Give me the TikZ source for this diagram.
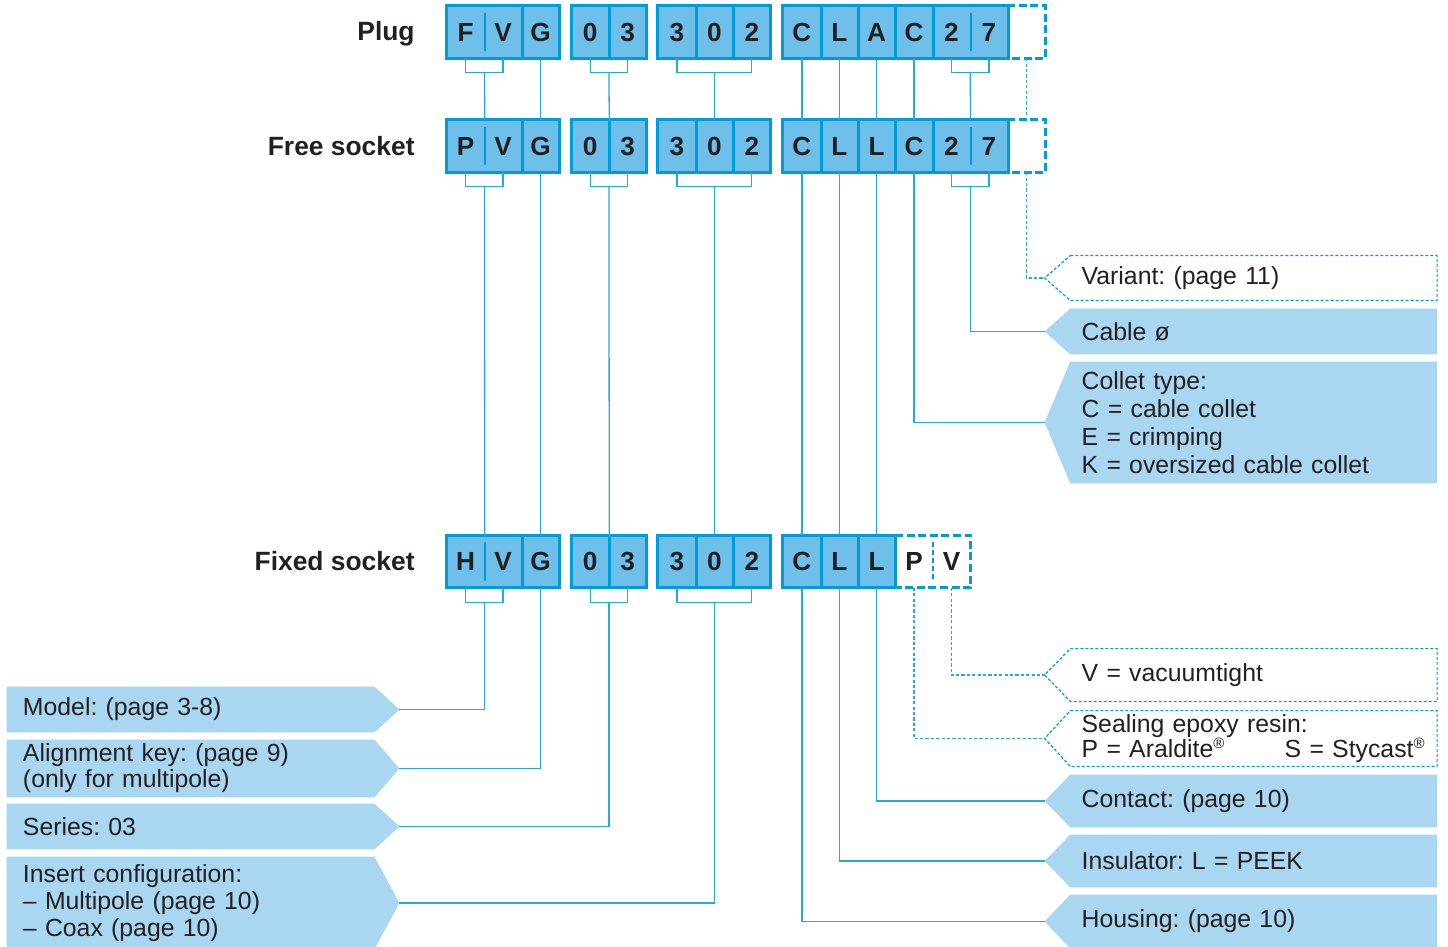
\documentclass[tikz,border=0pt]{standalone}
\usepackage{fontspec}
\setmainfont{Liberation Sans}
\usetikzlibrary{calc}
\definecolor{cellfill}{RGB}{110,192,234}
\definecolor{cellline}{RGB}{0,156,217}
\definecolor{labfill}{RGB}{169,214,240}
\definecolor{connline}{RGB}{40,168,224}
\definecolor{textcol}{RGB}{35,31,32}
\pgfdeclarelayer{bg}
\pgfsetlayers{bg,main}
\frenchspacing
\newcommand\myreg{\raisebox{4.6pt}{\fontsize{7.5pt}{7.5pt}\selectfont ®}}
\newcommand\mybrk[3]{\draw[conn] (#1.south) -- ++(0,14.5) -| (#2.south);
  \coordinate (#3) at ($(#1.south)!.5!(#2.south)+(0,14.5)$);}
\begin{document}
\begin{tikzpicture}[x=0.5pt,y=-0.5pt,
  every node/.append style={text=textcol},
  cell/.style={inner sep=0pt, minimum width=18.7pt, minimum height=25.85pt,
    text height=9.4pt, text depth=0pt, font=\fontsize{13.1}{14}\selectfont\bfseries},
  grp/.style={fill=cellfill, draw=cellline, line width=1.5pt},
  div/.style={draw=cellline, line width=1.5pt},
  sdiv/.style={draw=cellline, line width=1.1pt},
  dashcell/.style={draw=cellline, line width=1.5pt, dash pattern=on 4pt off 1.8pt},
  dsdiv/.style={draw=cellline, line width=1.1pt, dash pattern=on 2.5pt off 1.5pt},
  conn/.style={draw=connline, line width=0.65pt},
  dconn/.style={conn, dash pattern=on 1.6pt off 1.1pt},
  rowlab/.style={anchor=base east, inner sep=0pt, font=\fontsize{13.2}{14}\selectfont\bfseries},
  lab/.style={inner ysep=0pt, align=left, font=\fontsize{12.4}{13.5}\selectfont},
  rlab/.style={lab, text width=172pt, inner xsep=5.5pt},
  llab/.style={lab, text width=167.5pt, inner xsep=8pt},
  lfill/.style={fill=labfill},
  dlab/.style={fill=white, draw=cellline, line width=0.6pt, dash pattern=on 1.5pt off 1pt}
]
\useasboundingbox (0,0) rectangle (1448,947);
\begin{pgfonlayer}{bg}
  \fill[white] (0,0) rectangle (1448,947);
\end{pgfonlayer}

% row labels
\node[rowlab] (lplug) at (415,41) {Plug};
\node[rowlab] (lfree) at (415,155.5) {Free socket};
\node[rowlab] (lfix) at (415,570.5) {Fixed socket};

% cells
\foreach \i/\x/\t in {1/465.7/F,2/503.1/V,3/540.5/G,4/590.2/0,5/627.6/3,6/677.0/3,7/714.4/0,8/751.8/2,9/801.9/C,10/839.3/L,11/876.7/A,12/914.1/C,13/951.5/2,14/988.9/7,15/1026.3/{}}
  \node[cell] (pl\i) at (\x,31.9) {\t};
\foreach \i/\x/\t in {1/465.7/P,2/503.1/V,3/540.5/G,4/590.2/0,5/627.6/3,6/677.0/3,7/714.4/0,8/751.8/2,9/801.9/C,10/839.3/L,11/876.7/L,12/914.1/C,13/951.5/2,14/988.9/7,15/1026.3/{}}
  \node[cell] (fr\i) at (\x,146) {\t};
\foreach \i/\x/\t in {1/465.7/H,2/503.1/V,3/540.5/G,4/590.2/0,5/627.6/3,6/677.0/3,7/714.4/0,8/751.8/2,9/801.9/C,10/839.3/L,11/876.7/L,12/914.1/P,13/951.5/V}
  \node[cell] (fx\i) at (\x,561.5) {\t};

% group boxes
\begin{pgfonlayer}{bg}
\foreach \r in {pl,fr,fx}{
  \filldraw[grp] (\r1.north west) rectangle (\r3.south east);
  \filldraw[grp] (\r4.north west) rectangle (\r5.south east);
  \filldraw[grp] (\r6.north west) rectangle (\r8.south east);
}
\filldraw[grp] (pl9.north west) rectangle (pl14.south east);
\filldraw[grp] (fr9.north west) rectangle (fr14.south east);
\filldraw[grp] (fx9.north west) rectangle (fx11.south east);
\end{pgfonlayer}

% dividers
\foreach \r in {pl,fr}{
  \foreach \c in {2,4,6,7,9,10,11,12}
    \draw[div] (\r\c.north east) -- (\r\c.south east);
  \foreach \c in {1,13}
    \draw[sdiv] ([yshift=-3.5pt]\r\c.north east) -- ([yshift=3.5pt]\r\c.south east);
  \draw[dashcell] (\r15.north west) -- (\r15.north east) -- (\r15.south east) -- (\r15.south west);
}
\foreach \c in {2,4,6,7,9,10}
  \draw[div] (fx\c.north east) -- (fx\c.south east);
\draw[sdiv] ([yshift=-3.5pt]fx1.north east) -- ([yshift=3.5pt]fx1.south east);
\draw[dashcell] (fx12.north west) -- (fx13.north east) -- (fx13.south east) -- (fx12.south west);
\draw[dsdiv] ([yshift=-3.5pt]fx12.north east) -- ([yshift=3.5pt]fx12.south east);

% right labels
\node[rlab, minimum height=22pt] (var) at (1253.7,278) {Variant: (page 11)};
\node[rlab, minimum height=22.5pt] (cab) at (1253.7,331.5) {Cable ø};
\node[rlab, minimum height=60.5pt, font=\fontsize{12.4}{14}\selectfont] (col) at (1253.7,422.5) {Collet type:\\C = cable collet\\E = crimping\\K = oversized cable collet};
\node[rlab, minimum height=26pt] (vac) at (1253.7,675) {V = vacuumtight};
\node[rlab, minimum height=27.5pt, font=\fontsize{12.4}{12.5}\selectfont] (sea) at (1253.7,738.5) {Sealing epoxy resin:\\\makebox[101.5pt][l]{P = Araldite\myreg}S = Stycast\myreg};
\node[rlab, minimum height=26pt] (con) at (1253.7,801) {Contact: (page 10)};
\node[rlab, minimum height=26pt] (insu) at (1253.7,861) {Insulator: L = PEEK};
\node[rlab, minimum height=26.5pt] (hou) at (1253.7,921.5) {Housing: (page 10)};
\foreach \n in {var,cab,col,vac,sea,con,insu,hou}
  \coordinate (\n-t) at ([xshift=-12.85pt]\n.west);

% left labels
\node[llab, minimum height=22.5pt] (mod) at (190.5,709.5) {Model: (page 3-8)};
\node[llab, minimum height=28.5pt, font=\fontsize{12.4}{13}\selectfont] (ali) at (190.5,768.5) {Alignment key: (page 9)\\(only for multipole)};
\node[llab, minimum height=22.5pt] (ser) at (190.5,826.5) {Series: 03};
\node[llab, minimum height=46pt] (ins) at (190.5,903) {Insert configuration:\\– Multipole (page 10)\\– Coax (page 10)};
\foreach \n in {mod,ali,ser,ins}
  \coordinate (\n-t) at ([xshift=12.5pt]\n.east);

\begin{pgfonlayer}{bg}
\foreach \n in {cab,col,con,insu,hou}
  \fill[lfill] (\n.north west) -- (\n.north east) -- (\n.south east) -- (\n.south west) -- (\n-t) -- cycle;
\foreach \n in {var,vac,sea}
  \filldraw[dlab] (\n.north west) -- (\n.north east) -- (\n.south east) -- (\n.south west) -- (\n-t) -- cycle;
\foreach \n in {mod,ali,ser,ins}
  \fill[lfill] (\n.north west) -- (\n.north east) -- (\n-t) -- (\n.south east) -- (\n.south west) -- cycle;
\end{pgfonlayer}

% brackets
\mybrk{pl1}{pl2}{plB1} \mybrk{pl4}{pl5}{plB2} \mybrk{pl6}{pl8}{plB3} \mybrk{pl13}{pl14}{plB4}
\mybrk{fr1}{fr2}{frB1} \mybrk{fr4}{fr5}{frB2} \mybrk{fr6}{fr8}{frB3} \mybrk{fr13}{fr14}{frB4}
\mybrk{fx1}{fx2}{fxB1} \mybrk{fx4}{fx5}{fxB2} \mybrk{fx6}{fx8}{fxB3}

% plug -> free
\draw[conn] (plB1) -- (fr1.north east);
\draw[conn] (pl3.south) -- (fr3.north);
\draw[conn] (plB2) -- (fr4.north east);
\draw[conn] (plB3) -- (fr7.north);
\foreach \c in {9,10,11,12}
  \draw[conn] (pl\c.south) -- (fr\c.north);
\draw[conn] (plB4) -- (fr13.north east);
\draw[dconn] (pl15.south) -- (fr15.north);

% free -> fixed / right labels
\draw[conn] (frB1) -- (fx1.north east);
\draw[conn] (fr3.south) -- (fx3.north);
\draw[conn] (frB2) -- (fx4.north east);
\draw[conn] (frB3) -- (fx7.north);
\foreach \c in {9,10,11}
  \draw[conn] (fr\c.south) -- (fx\c.north);
\draw[conn] (fr12.south) |- (col-t);
\draw[conn] (frB4) |- (cab-t);
\draw[dconn] (fr15.south) |- (var-t);

% fixed -> labels
\draw[conn] (fxB1) |- (mod-t);
\draw[conn] (fx3.south) |- (ali-t);
\draw[conn] (fxB2) |- (ser-t);
\draw[conn] (fxB3) |- (ins-t);
\draw[conn] (fx9.south) |- (hou-t);
\draw[conn] (fx10.south) |- (insu-t);
\draw[conn] (fx11.south) |- (con-t);
\draw[dconn] (fx12.south) |- (sea-t);
\draw[dconn] (fx13.south) |- (vac-t);
\end{tikzpicture}
\end{document}
